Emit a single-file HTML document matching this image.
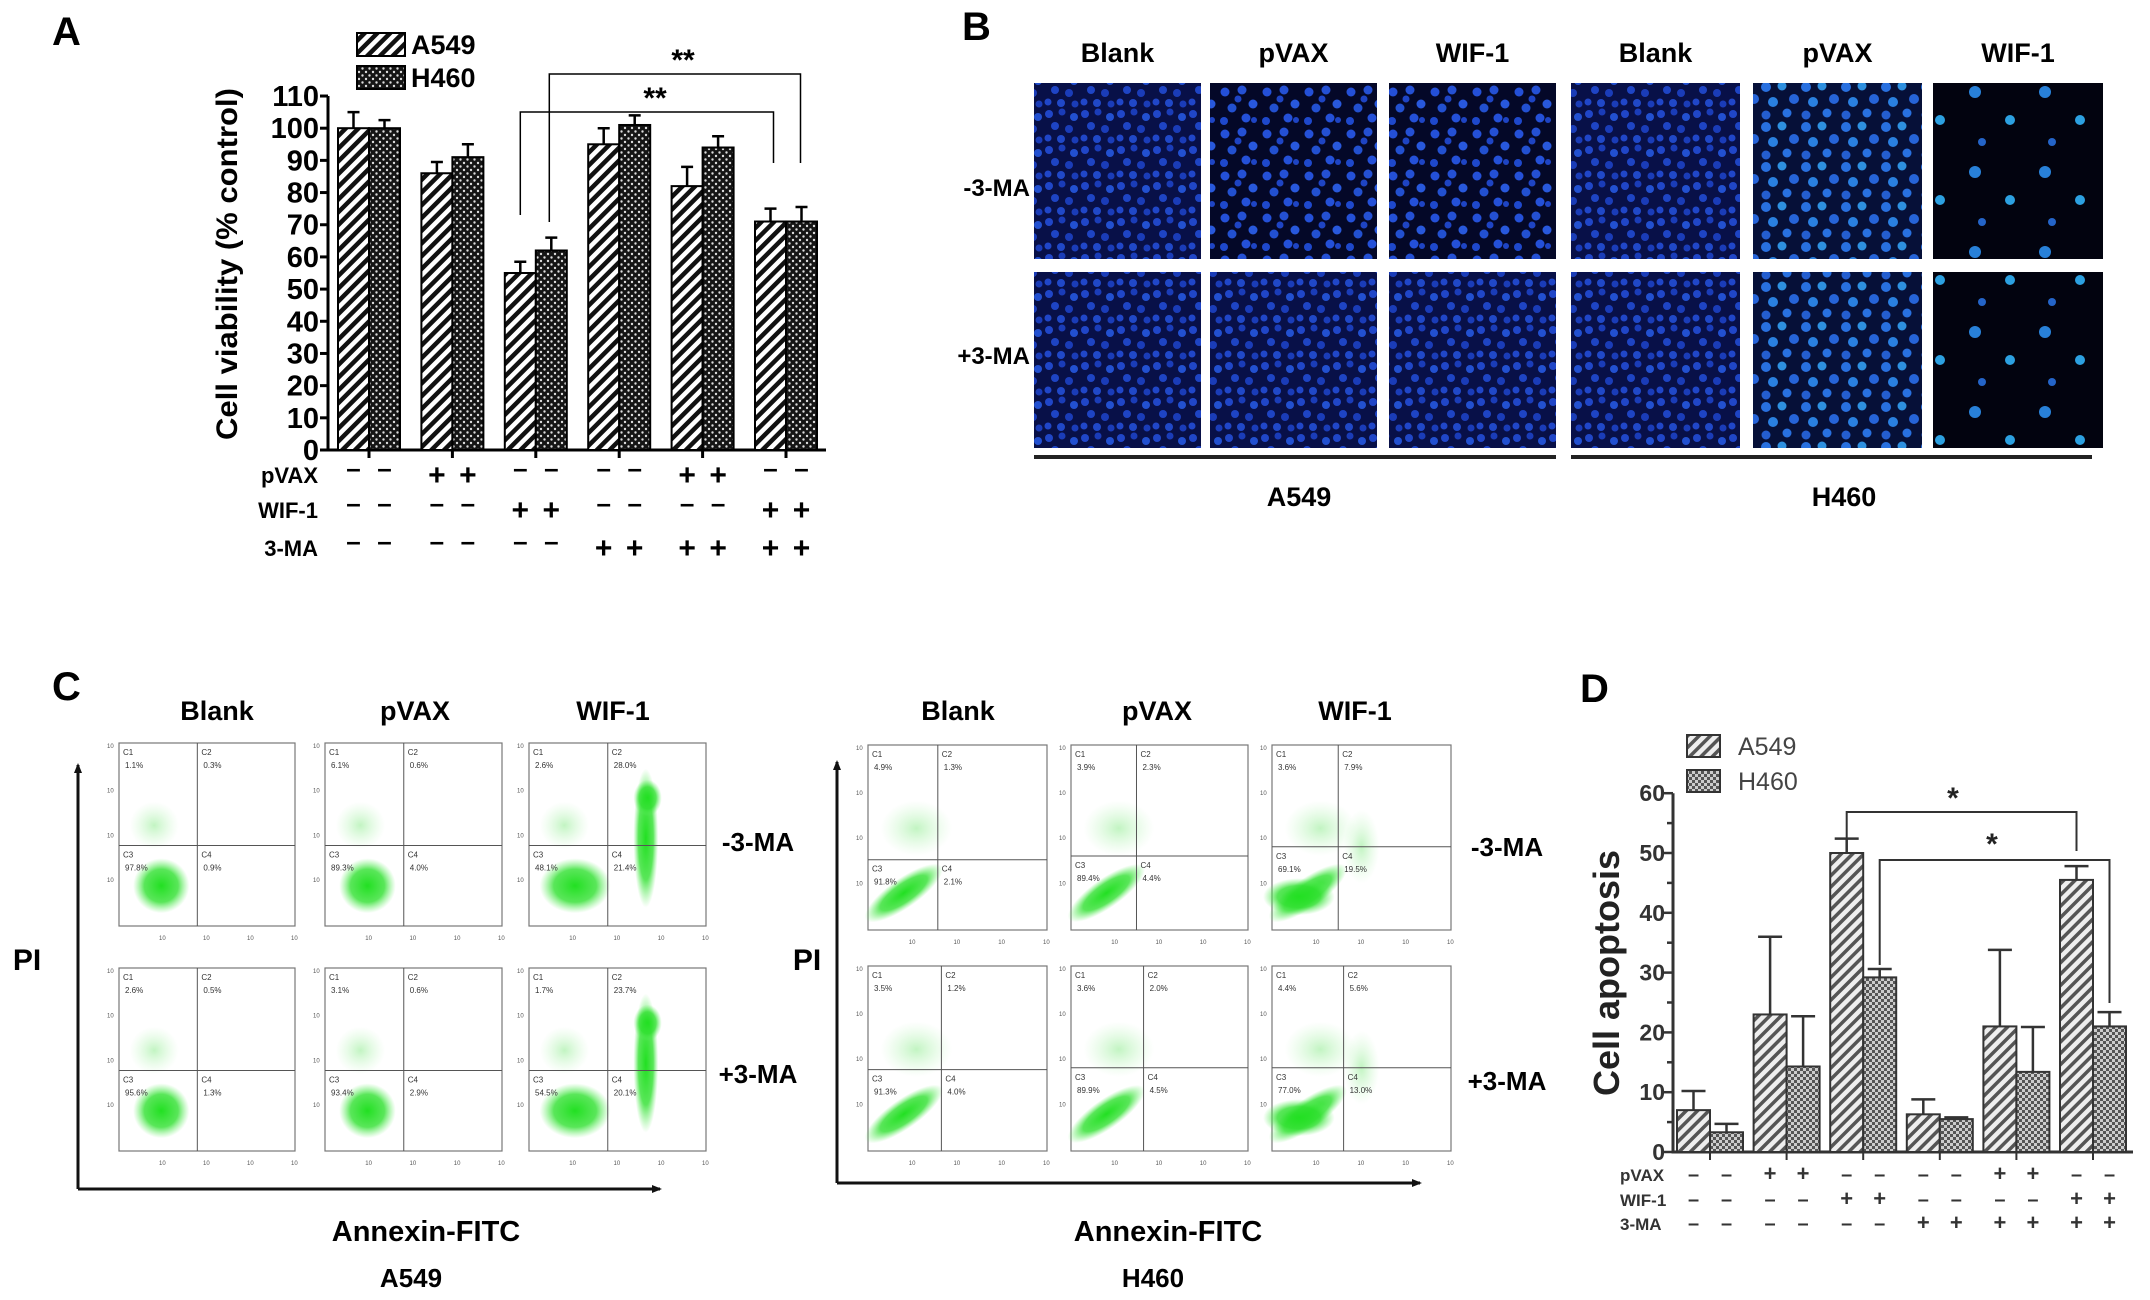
<!DOCTYPE html>
<html><head><meta charset="utf-8"><style>
html,body{margin:0;padding:0;background:#fff;}
svg{display:block;font-family:"Liberation Sans",Arial,sans-serif;}
.b{font-weight:bold;}
.nar{font-family:"Liberation Sans Narrow","Liberation Sans",sans-serif;font-weight:bold;}
</style></head><body>
<svg id="fig" width="2150" height="1300" viewBox="0 0 2150 1300" xmlns="http://www.w3.org/2000/svg">
<defs>
<pattern id="hatchA" patternUnits="userSpaceOnUse" width="9" height="9" patternTransform="rotate(-45)">
<rect width="9" height="9" fill="#fff"/><rect width="9" height="4.5" fill="#111"/></pattern>
<pattern id="dotsA" patternUnits="userSpaceOnUse" width="7" height="7">
<rect width="7" height="7" fill="#151515"/><circle cx="2" cy="2" r="1.2" fill="#ddd"/><circle cx="5.5" cy="5.5" r="1.2" fill="#ddd"/></pattern>
<pattern id="hatchD" patternUnits="userSpaceOnUse" width="8" height="8" patternTransform="rotate(-45)">
<rect width="8" height="8" fill="#eee"/><rect width="8" height="3.5" fill="#555"/></pattern>
<pattern id="crossD" patternUnits="userSpaceOnUse" width="6" height="6">
<rect width="6" height="6" fill="#ccc"/><rect width="3" height="3" fill="#555"/><rect x="3" y="3" width="3" height="3" fill="#555"/></pattern>
<pattern id="cellDense" patternUnits="userSpaceOnUse" width="36" height="36">
<rect width="36" height="36" fill="#081048"/>
<circle cx="5" cy="6" r="4" fill="#2046c8"/><circle cx="18" cy="4" r="3.5" fill="#1a3cb8"/><circle cx="30" cy="9" r="4" fill="#2250d0"/>
<circle cx="11" cy="18" r="4" fill="#1e44c4"/><circle cx="25" cy="21" r="4" fill="#1a3cb8"/><circle cx="4" cy="30" r="3.5" fill="#2046c8"/>
<circle cx="17" cy="31" r="4" fill="#2048c8"/><circle cx="31" cy="32" r="3.5" fill="#1a3cb8"/></pattern>
<pattern id="cellMed" patternUnits="userSpaceOnUse" width="42" height="42">
<rect width="42" height="42" fill="#040828"/>
<circle cx="7" cy="8" r="4.5" fill="#2450d8"/><circle cx="24" cy="6" r="4.5" fill="#2450d4"/><circle cx="35" cy="20" r="4.5" fill="#2858dc"/>
<circle cx="14" cy="24" r="4.5" fill="#2250d0"/><circle cx="28" cy="34" r="4.5" fill="#2450d8"/><circle cx="6" cy="37" r="4" fill="#1e48cc"/>
<circle cx="20" cy="15" r="3.5" fill="#1e44c4"/><circle cx="36" cy="36" r="3" fill="#1e44c4"/></pattern>
<pattern id="cellCyan" patternUnits="userSpaceOnUse" width="40" height="40">
<rect width="40" height="40" fill="#061038"/>
<circle cx="6" cy="7" r="5" fill="#2870e0"/><circle cx="22" cy="6" r="4.5" fill="#2e90e0"/><circle cx="34" cy="19" r="5" fill="#2664d8"/>
<circle cx="13" cy="22" r="5" fill="#2a80e0"/><circle cx="27" cy="33" r="4.5" fill="#2870e0"/><circle cx="6" cy="35" r="4.5" fill="#245ed0"/></pattern>
<pattern id="cellSparse" patternUnits="userSpaceOnUse" width="70" height="80">
<rect width="70" height="80" fill="#02030f"/>
<circle cx="15" cy="12" r="6" fill="#2880d8"/><circle cx="50" cy="40" r="5" fill="#2ca0e0"/><circle cx="22" cy="62" r="4" fill="#2464c8"/></pattern>
<radialGradient id="gblob"><stop offset="0" stop-color="#22e022" stop-opacity="1"/><stop offset="0.6" stop-color="#30e030" stop-opacity="0.8"/><stop offset="1" stop-color="#60f060" stop-opacity="0"/></radialGradient>
<radialGradient id="gfaint"><stop offset="0" stop-color="#50e050" stop-opacity="0.35"/><stop offset="1" stop-color="#90f090" stop-opacity="0"/></radialGradient>
<marker id="arr" markerWidth="10" markerHeight="10" refX="8" refY="5" orient="auto" markerUnits="userSpaceOnUse"><path d="M0,1 L10,5 L0,9 Z" fill="#111"/></marker>
</defs>
<g id="panelA"></g>
<g id="panelB"></g>
<g id="panelC"></g>
<g id="panelD"></g>
</svg>
<script>
// ---------- Panel A data ----------
const aGroups = ["g1","g2","g3","g4","g5","g6"];
const aA549 = [100, 86, 55, 95, 82, 71];
const aA549Err = [5, 3.5, 3.5, 5, 6, 4];
const aH460 = [100, 91, 62, 101, 94, 71];
const aH460Err = [2.5, 4, 4, 3, 3.5, 4.5];
const aTicks = [0,10,20,30,40,50,60,70,80,90,100,110];
const aPVAX = ["-","+","-","-","+","-"];
const aWIF = ["-","-","+","-","-","+"];
const aMA = ["-","-","-","+","+","+"];
// ---------- Panel D data ----------
const dA549 = [7, 23, 50, 6.3, 21, 45.5];
const dA549Err = [3.2, 13, 2.4, 2.5, 12.8, 2.3];
const dH460 = [3.3, 14.3, 29.2, 5.5, 13.4, 21];
const dH460Err = [1.4, 8.4, 1.4, 0.3, 7.5, 2.4];
const dTicks = [0,10,20,30,40,50,60];
const dPVAX = ["-","-","+","+","-","-","-","-","+","+","-","-"];
const dWIF = ["-","-","-","-","+","+","-","-","-","-","+","+"];
const dMA = ["-","-","-","-","-","-","+","+","+","+","+","+"];

const NS="http://www.w3.org/2000/svg";
function mk(parent, tag, attrs, text){
  const e=document.createElementNS(NS,tag);
  for(const k in attrs) e.setAttribute(k,attrs[k]);
  if(text!==undefined) e.textContent=text;
  parent.appendChild(e); return e;
}

// ================= PANEL A =================
(function(){
  const g=document.getElementById('panelA');
  const x0=328, y0=450, ppu=3.218, gc0=369, gsp=83.4, bw=31;
  const yA=v=>y0-v*ppu;
  const xG=i=>gc0+i*gsp;
  let t;
  t=mk(g,'text',{x:52,y:45,'font-size':40,class:'b'},'A');
  
  
  const lg=mk(g,'g',{});
  
  
  [["hatchA","A549",33],["dotsA","H460",66]].forEach(([p,l,y])=>{
    const r=mk(lg,'rect',{x:357,y:y,width:48,height:23,fill:'url(#'+p+')',stroke:'#000','stroke-width':2});
    
    
    const tx=mk(lg,'text',{x:411,y:y+21,'font-size':27,class:'nar'},l);
    
    
  });
  const ax=mk(g,'path',{d:`M${x0},${yA(110)} L${x0},${y0} L826,${y0}`,fill:'none',stroke:'#000','stroke-width':3});
  
  
  aTicks.forEach(v=>{
    mk(g,'line',{x1:x0-8,x2:x0,y1:yA(v),y2:yA(v),stroke:'#000','stroke-width':3});
    const tl=mk(g,'text',{x:x0-9,y:yA(v)+10,'font-size':29,'text-anchor':'end',class:'nar'},String(v));
    
    
  });
  aGroups.forEach((_,i)=>{
    mk(g,'line',{x1:xG(i),x2:xG(i),y1:y0,y2:y0+8,stroke:'#000','stroke-width':3});
  });
  const yl=mk(g,'text',{x:0,y:0,'font-size':30,class:'b','text-anchor':'middle',transform:`translate(237,264) rotate(-90)`,textLength:352,lengthAdjust:'spacingAndGlyphs'},'Cell viability (% control)');
  
  
  function bar(v,e,xl,pat,name){
    const r=mk(g,'rect',{x:xl,y:yA(v),width:bw,height:y0-yA(v),fill:'url(#'+pat+')',stroke:'#000','stroke-width':2});
    
    
    const cx=xl+bw/2;
    mk(g,'path',{d:`M${cx},${yA(v)} V${yA(v+e)} M${cx-6},${yA(v+e)} H${cx+6}`,stroke:'#000','stroke-width':2.5,fill:'none'});
  }
  aA549.forEach((v,i)=>bar(v,aA549Err[i],xG(i)-bw,'hatchA','bar-a549-'+(i+1)));
  aH460.forEach((v,i)=>bar(v,aH460Err[i],xG(i),'dotsA','bar-h460-'+(i+1)));
  mk(g,'path',{d:`M${xG(2)-bw/2},215 V112 H${xG(5)-bw/2+3} V163`,fill:'none',stroke:'#000','stroke-width':1.5});
  mk(g,'path',{d:`M${xG(2)+bw/2-2},222 V74 H${xG(5)+bw/2-1} V163`,fill:'none',stroke:'#000','stroke-width':1.5});
  let st=mk(g,'text',{x:655,y:108,'font-size':30,class:'b','text-anchor':'middle'},'**');
  
  
  st=mk(g,'text',{x:683,y:70,'font-size':30,class:'b','text-anchor':'middle'},'**');
  
  
  [["pVAX",aPVAX,483],["WIF-1",aWIF,518],["3-MA",aMA,556]].forEach(([lab,arr,y])=>{
    const tl=mk(g,'text',{x:318,y:y,'font-size':22,class:'nar','text-anchor':'end'},lab);
    
    
    arr.forEach((s,i)=>{
      [xG(i)-bw/2,xG(i)+bw/2].forEach(cx=>{
        mk(g,'text',{x:cx,y:s=='+'?y+2:y-6,'font-size':s=='+'?30:26,class:'b','text-anchor':'middle'},s=='-'?'–':'+');
      });
    });
  });
})();

// ================= PANEL B =================
(function(){
  const g=document.getElementById('panelB');
  let t=mk(g,'text',{x:962,y:40,'font-size':40,class:'b'},'B');
  
  
  const cols=[[1034,167],[1210,167],[1389,167],[1571,169],[1753,169],[1933,170]];
  const heads=["Blank","pVAX","WIF-1","Blank","pVAX","WIF-1"];
  const pats=[["cellDense","cellMed","cellMed","cellDense","cellCyan","cellSparse"],["cellDense","cellDense","cellDense","cellDense","cellCyan","cellSparse"]];
  const rows=[[83,176],[272,176]];
  cols.forEach(([x,w],ci)=>{
    const h=mk(g,'text',{x:x+w/2,y:62,'font-size':27,class:'nar','text-anchor':'middle'},heads[ci]);
    
    
    rows.forEach(([y,hh],ri)=>{
      const r=mk(g,'rect',{x:x,y:y,width:w,height:hh,fill:'url(#'+pats[ri][ci]+')'});
      
      
    });
  });
  [["-3-MA",196],["+3-MA",364]].forEach(([l,y])=>{
    const tx=mk(g,'text',{x:1030,y:y,'font-size':24,class:'nar','text-anchor':'end'},l);
    
    
  });
  mk(g,'line',{x1:1034,x2:1556,y1:457,y2:457,stroke:'#222','stroke-width':4});
  mk(g,'line',{x1:1571,x2:2092,y1:457,y2:457,stroke:'#222','stroke-width':4});
  [["A549",1299],["H460",1844]].forEach(([l,x])=>{
    const tx=mk(g,'text',{x:x,y:506,'font-size':27,class:'nar','text-anchor':'middle'},l);
    
    
  });
})();

// ================= PANEL C =================
const cA549Pct=[["1.1%","0.3%","97.8%","0.9%"],["6.1%","0.6%","89.3%","4.0%"],["2.6%","28.0%","48.1%","21.4%"],
                ["2.6%","0.5%","95.6%","1.3%"],["3.1%","0.6%","93.4%","2.9%"],["1.7%","23.7%","54.5%","20.1%"]];
const cH460Pct=[["4.9%","1.3%","91.8%","2.1%"],["3.9%","2.3%","89.4%","4.4%"],["3.6%","7.9%","69.1%","19.5%"],
                ["3.5%","1.2%","91.3%","4.0%"],["3.6%","2.0%","89.9%","4.5%"],["4.4%","5.6%","77.0%","13.0%"]];
(function(){
  const g=document.getElementById('panelC');
  let t=mk(g,'text',{x:52,y:700,'font-size':40,class:'b'},'C');
  
  
  function block(cols,rows,heads,pcts,arrowX,arrowTop,arrowBottom,arrowRight,piX,annX,lineName,lineY,maX,kind,vfr,hfr){
    heads.forEach((h,i)=>{
      const tx=mk(g,'text',{x:h[1],y:720,'font-size':27,class:'nar','text-anchor':'middle'},h[0]);
      
      
    });
    let k=0;
    rows.forEach((ry,ri)=>{
      cols.forEach((cx,ci)=>{
        const w=cx[1]-cx[0], hh=ry[1]-ry[0];
        const pg=mk(g,'g',{});
        
        
        mk(pg,'rect',{x:cx[0],y:ry[0],width:w,height:hh,fill:'#fff',stroke:'#777','stroke-width':1.2});
        const vx=cx[0]+w*vfr[k], hy=ry[0]+hh*hfr[k];
        if(kind=='a'){
          mk(pg,'ellipse',{cx:cx[0]+w*0.2,cy:ry[0]+hh*0.45,rx:w*0.14,ry:hh*0.13,fill:'url(#gfaint)'});
          const wide=(ci==2)?0.2:0.16;
          mk(pg,'ellipse',{cx:cx[0]+w*(ci==2?0.26:0.24),cy:ry[0]+hh*0.78,rx:w*wide,ry:hh*0.15,fill:'url(#gblob)'});
          if(ci==2){
            mk(pg,'ellipse',{cx:cx[0]+w*0.66,cy:ry[0]+hh*0.52,rx:w*0.07,ry:hh*0.38,fill:'url(#gblob)'});
            mk(pg,'ellipse',{cx:cx[0]+w*0.67,cy:ry[0]+hh*0.3,rx:w*0.08,ry:hh*0.1,fill:'url(#gblob)'});
          }
        } else {
          mk(pg,'ellipse',{cx:cx[0]+w*0.27,cy:ry[0]+hh*0.45,rx:w*0.2,ry:hh*0.15,fill:'url(#gfaint)'});
          mk(pg,'ellipse',{cx:cx[0]+w*0.2,cy:ry[0]+hh*0.8,rx:w*0.26,ry:hh*0.08,fill:'url(#gblob)',transform:`rotate(-35 ${cx[0]+w*0.2} ${ry[0]+hh*0.8})`});
          if(ci==2){
            mk(pg,'ellipse',{cx:cx[0]+w*0.5,cy:ry[0]+hh*0.55,rx:w*0.1,ry:hh*0.2,fill:'url(#gfaint)'});
            mk(pg,'ellipse',{cx:cx[0]+w*0.15,cy:ry[0]+hh*0.82,rx:w*0.2,ry:hh*0.1,fill:'url(#gblob)'});
          }
        }
        mk(pg,'line',{x1:vx,x2:vx,y1:ry[0],y2:ry[1],stroke:'#555','stroke-width':1});
        mk(pg,'line',{x1:cx[0],x2:cx[1],y1:hy,y2:hy,stroke:'#555','stroke-width':1});
        const p=pcts[k];
        [[cx[0]+4,ry[0]+12,'C1',p[0]],[vx+4,ry[0]+12,'C2',p[1]],[cx[0]+4,hy+12,'C3',p[2]],[vx+4,hy+12,'C4',p[3]]].forEach(a=>{
          mk(pg,'text',{x:a[0],y:a[1],'font-size':8,fill:'#333'},a[2]);
          mk(pg,'text',{x:a[0]+2,y:a[1]+13,'font-size':8,fill:'#333'},a[3]);
        });
        for(let j=0;j<4;j++){
          mk(pg,'text',{x:cx[0]-12,y:ry[0]+5+j*(hh/4.1),'font-size':6,fill:'#555'},'10');
          mk(pg,'text',{x:cx[0]+w*(0.25+j*0.25)-4,y:ry[1]+14,'font-size':6,fill:'#555'},'10');
        }
        k++;
      });
    });
    mk(g,'line',{x1:arrowX,y1:arrowBottom,x2:arrowX,y2:arrowTop,stroke:'#111','stroke-width':3,'marker-end':'url(#arr)'});
    mk(g,'line',{x1:arrowX,y1:arrowBottom,x2:arrowRight,y2:arrowBottom,stroke:'#111','stroke-width':3,'marker-end':'url(#arr)'});
    let tx=mk(g,'text',{x:piX,y:970,'font-size':30,class:'b','text-anchor':'middle'},'PI');
    
    
    tx=mk(g,'text',{x:annX,y:1241,'font-size':29,class:'nar','text-anchor':'middle'},'Annexin-FITC');
    
    
    tx=mk(g,'text',{x:annX-15,y:1287,'font-size':26,class:'nar','text-anchor':'middle'},lineName);
    
    
    [["-3-MA",lineY[0]],["+3-MA",lineY[1]]].forEach(([l,y])=>{
      const r=mk(g,'text',{x:maX,y:y,'font-size':26,class:'nar','text-anchor':'middle'},l);
      
      
    });
  }
  block([[119,295],[325,502],[529,706]],[[743,926],[968,1151]],[["Blank",217],["pVAX",415],["WIF-1",613]],cA549Pct,
        78,765,1189,660,27,426,"A549",[851,1083],758,'a',[0.445,0.445,0.445,0.445,0.445,0.445],[0.56,0.56,0.56,0.56,0.56,0.56]);
  block([[868,1047],[1071,1248],[1272,1451]],[[745,930],[966,1151]],[["Blank",958],["pVAX",1157],["WIF-1",1355]],cH460Pct,
        837,762,1183,1420,807,1168,"H460",[856,1090],1507,'h',[0.39,0.37,0.37,0.41,0.41,0.4],[0.62,0.6,0.55,0.56,0.55,0.55]);
})();

// ================= PANEL D =================
(function(){
  const g=document.getElementById('panelD');
  const x0=1673, y0=1152, ppu=5.98, gc0=1710, gsp=76.6, bw=33;
  const yD=v=>y0-v*ppu;
  const xG=i=>gc0+i*gsp;
  let t=mk(g,'text',{x:1580,y:702,'font-size':40,class:'b'},'D');
  
  
  const lg=mk(g,'g',{});
  
  
  [["hatchD","A549",735],["crossD","H460",770]].forEach(([p,l,y])=>{
    const r=mk(lg,'rect',{x:1687,y:y,width:33,height:22,fill:'url(#'+p+')',stroke:'#333','stroke-width':2});
    
    
    const tx=mk(lg,'text',{x:1738,y:y+20,'font-size':25,fill:'#444'},l);
    
    
  });
  const ax=mk(g,'path',{d:`M${x0},${yD(60)} L${x0},${y0} L2133,${y0}`,fill:'none',stroke:'#333','stroke-width':3});
  
  
  for(let v=0;v<=60;v+=5){
    mk(g,'line',{x1:x0-(v%10==0?9:6),x2:x0,y1:yD(v),y2:yD(v),stroke:'#333','stroke-width':2.5});
  }
  dTicks.forEach(v=>{
    const tl=mk(g,'text',{x:x0-8,y:yD(v)+8,'font-size':23,'text-anchor':'end',class:'b',fill:'#333'},String(v));
    
    
  });
  for(let i=0;i<6;i++){
    mk(g,'line',{x1:xG(i),x2:xG(i),y1:y0,y2:y0+8,stroke:'#333','stroke-width':2});
  }
  const yl=mk(g,'text',{x:0,y:0,'font-size':36,class:'b','text-anchor':'middle',fill:'#222',transform:'translate(1619,973) rotate(-90)'},'Cell apoptosis');
  
  
  function bar(v,e,xl,pat,name){
    const cx=xl+bw/2;
    mk(g,'path',{d:`M${cx},${yD(v)} V${yD(v+e)} M${cx-12},${yD(v+e)} H${cx+12}`,stroke:'#333','stroke-width':2.5,fill:'none'});
    const r=mk(g,'rect',{x:xl,y:yD(v),width:bw,height:y0-yD(v),fill:'url(#'+pat+')',stroke:'#333','stroke-width':2});
    
    
  }
  dA549.forEach((v,i)=>bar(v,dA549Err[i],xG(i)-bw,'hatchD','bar-a549-'+(i+1)));
  dH460.forEach((v,i)=>bar(v,dH460Err[i],xG(i),'crossD','bar-h460-'+(i+1)));
  mk(g,'path',{d:`M${xG(2)-bw/2},839 V812 H${xG(5)-bw/2} V851`,fill:'none',stroke:'#333','stroke-width':2});
  mk(g,'path',{d:`M${xG(2)+bw/2},965 V860 H${xG(5)+bw/2} V1003`,fill:'none',stroke:'#333','stroke-width':2});
  let st=mk(g,'text',{x:1953,y:808,'font-size':30,class:'b','text-anchor':'middle',fill:'#222'},'*');
  
  
  st=mk(g,'text',{x:1992,y:854,'font-size':30,class:'b','text-anchor':'middle',fill:'#222'},'*');
  
  
  [["pVAX",dPVAX,1181],["WIF-1",dWIF,1206],["3-MA",dMA,1230]].forEach(([lab,arr,y])=>{
    const tl=mk(g,'text',{x:1620,y:y,'font-size':17,class:'b',fill:'#333'},lab);
    
    
    arr.forEach((s,i)=>{
      const cx=xG(Math.floor(i/2))+(i%2==0?-bw/2:bw/2);
      mk(g,'text',{x:cx,y:y,'font-size':s=='+'?22:20,class:'b','text-anchor':'middle',fill:'#333'},s=='-'?'–':'+');
    });
  });
})();
</script>
</body></html>
